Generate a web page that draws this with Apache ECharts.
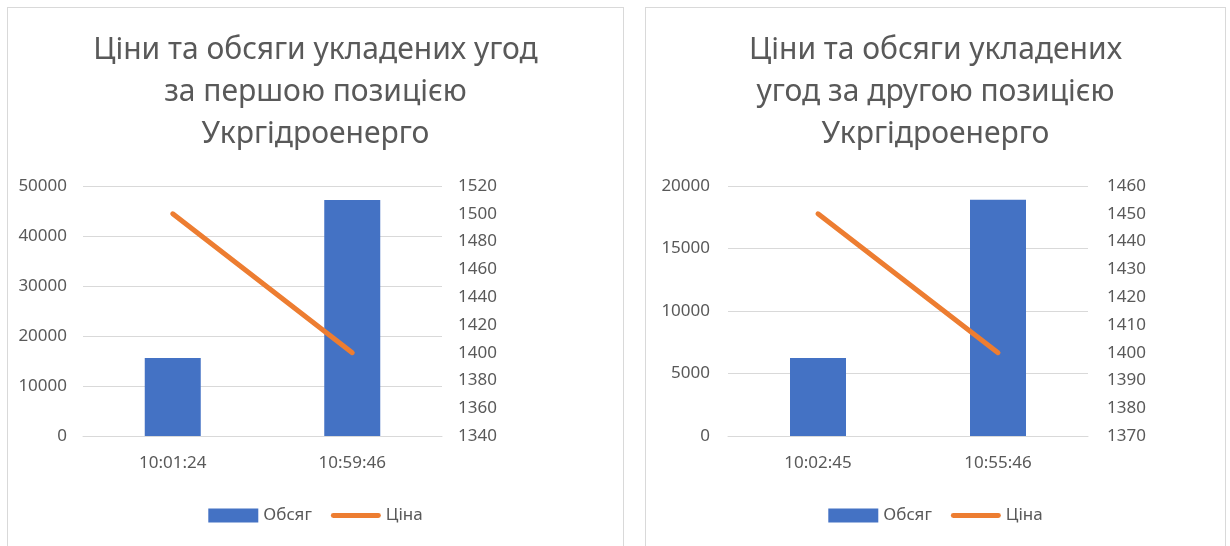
<!DOCTYPE html>
<html>
<head>
<meta charset="utf-8">
<script src="https://cdn.jsdelivr.net/npm/echarts@6/dist/echarts.min.js"></script>
<style>
  html, body { margin: 0; padding: 0; background: #fff; }
  .panel {
    position: absolute;
    top: 7px;
    height: 545px;
    border: 1px solid #d9d9d9;
    box-sizing: border-box;
    background: #fff;
  }
  #chartA { left: 7px; width: 617px; }
  #chartB { left: 645px; width: 581px; }
</style>
</head>
<body>
<div id="chartA" class="panel"></div>
<div id="chartB" class="panel"></div>
<script>
// ---- Data ----
const titleA = 'Ціни та обсяги укладених угод\nза першою позицією\nУкргідроенерго'
const timesA = ['10:01:24', '10:59:46']
const volumeA = [15600, 47200]
const priceA = [1500, 1400]

const titleB = 'Ціни та обсяги укладених\nугод за другою позицією\nУкргідроенерго'
const timesB = ['10:02:45', '10:55:46']
const volumeB = [6250, 18900]
const priceB = [1450, 1400]

const BAR_COLOR = '#4472C4'
const LINE_COLOR = '#ED7D31'
const TEXT_COLOR = '#595959'
const GRID_COLOR = '#d9d9d9'
const FONT = '"Noto Sans", "DejaVu Sans", sans-serif'
// thick short line for the price legend swatch (aspect kept by legend)
const LINE_ICON = 'path://M2,0 L48,0 A2.5,2.5 0 0 1 48,5 L2,5 A2.5,2.5 0 0 1 2,0 Z'

// ---- Helpers ----

function plain(v) {
  return String(v)
}

function buildOption(cfg) {
  return {
    animation: false,
    textStyle: { fontFamily: FONT },
    title: {
      text: cfg.title,
      left: 'center',
      top: 16,
      textStyle: {
        fontFamily: FONT,
        fontSize: 30,
        fontWeight: 'normal',
        color: TEXT_COLOR,
        lineHeight: 42,
      },
    },
    legend: {
      bottom: 22,
      left: 'center',
      itemWidth: 50,
      itemHeight: 14,
      itemGap: 19,
      textStyle: { color: TEXT_COLOR, fontSize: 17, fontFamily: FONT },
      data: [
        { name: 'Обсяг', icon: 'rect' },
        { name: 'Ціна', icon: LINE_ICON },
      ],
    },
    grid: {
      left: cfg.gridLeft,
      width: cfg.gridWidth,
      top: 178,
      height: 250,
    },
    xAxis: {
      type: 'category',
      data: cfg.times,
      axisLine: { lineStyle: { color: GRID_COLOR } },
      axisTick: { show: false },
      axisLabel: { color: TEXT_COLOR, fontSize: 17, margin: 19 },
    },
    yAxis: [
      {
        type: 'value',
        min: 0,
        max: cfg.volMax,
        interval: cfg.volStep,
        axisLine: { show: false },
        axisTick: { show: false },
        axisLabel: { color: TEXT_COLOR, fontSize: 17, margin: cfg.leftMargin, formatter: plain },
        splitLine: { lineStyle: { color: GRID_COLOR } },
      },
      {
        type: 'value',
        position: 'right',
        min: cfg.priceMin,
        max: cfg.priceMax,
        interval: cfg.priceStep,
        axisLine: { show: false },
        axisTick: { show: false },
        axisLabel: { color: TEXT_COLOR, fontSize: 17, margin: cfg.rightMargin, formatter: plain },
        splitLine: { show: false },
      },
    ],
    series: [
      {
        name: 'Обсяг',
        type: 'bar',
        data: cfg.volume,
        barWidth: 56,
        itemStyle: { color: BAR_COLOR },
      },
      {
        name: 'Ціна',
        type: 'line',
        yAxisIndex: 1,
        data: cfg.price,
        symbol: 'none',
        lineStyle: { color: LINE_COLOR, width: 5, cap: 'round' },
        itemStyle: { color: LINE_COLOR },
        z: 5,
      },
    ],
  }
}

// ---- Charts ----

const chartA = echarts.init(document.getElementById('chartA'), null, { renderer: 'canvas' })
chartA.setOption(buildOption({
  title: titleA,
  times: timesA,
  volume: volumeA,
  price: priceA,
  gridLeft: 75,
  gridWidth: 359,
  volMax: 50000,
  volStep: 10000,
  priceMin: 1340,
  priceMax: 1520,
  priceStep: 20,
  leftMargin: 16,
  rightMargin: 16,
}))

const chartB = echarts.init(document.getElementById('chartB'), null, { renderer: 'canvas' })
chartB.setOption(buildOption({
  title: titleB,
  times: timesB,
  volume: volumeB,
  price: priceB,
  gridLeft: 82,
  gridWidth: 360,
  volMax: 20000,
  volStep: 5000,
  priceMin: 1370,
  priceMax: 1460,
  priceStep: 10,
  leftMargin: 18,
  rightMargin: 19,
}))
</script>
</body>
</html>
